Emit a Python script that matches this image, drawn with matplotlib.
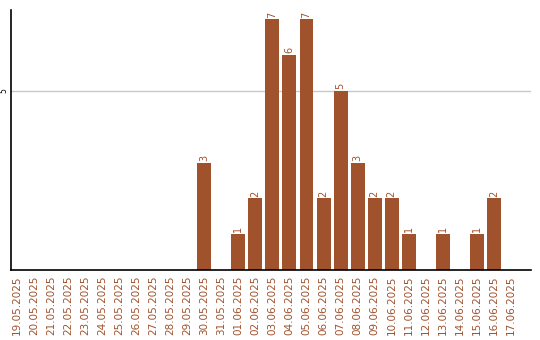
import matplotlib
matplotlib.use("Agg")
import matplotlib.pyplot as plt

dates = ["19.05.2025", "20.05.2025", "21.05.2025", "22.05.2025", "23.05.2025",
         "24.05.2025", "25.05.2025", "26.05.2025", "27.05.2025", "28.05.2025",
         "29.05.2025", "30.05.2025", "31.05.2025", "01.06.2025", "02.06.2025",
         "03.06.2025", "04.06.2025", "05.06.2025", "06.06.2025", "07.06.2025",
         "08.06.2025", "09.06.2025", "10.06.2025", "11.06.2025", "12.06.2025",
         "13.06.2025", "14.06.2025", "15.06.2025", "16.06.2025", "17.06.2025"]
counts = [0, 0, 0, 0, 0, 0, 0, 0, 0, 0, 0, 3, 0, 1, 2, 7, 6, 7, 2, 5,
          3, 2, 2, 1, 0, 1, 0, 1, 2, 0]

color = "#A0522D"

fig = plt.figure(figsize=(5.4, 3.4), dpi=100)
ax = fig.add_axes([11 / 540, 70 / 340, 520 / 540, 260 / 340])

x = list(range(len(dates)))
bars = ax.bar(x, counts, width=0.82, color=color, zorder=2)
for xi, v in zip(x, counts):
    if v > 0:
        ax.text(xi, v + 0.05, str(v), rotation=90, ha="center", va="bottom",
                color=color, fontsize=7)

ax.set_xlim(-0.35, 30.18)
ax.set_ylim(0, 7.26)
ax.set_yticks([5])
ax.set_yticklabels(["5"], rotation=90, va="center", ha="center", fontsize=5.5)
ax.tick_params(axis="y", length=0, pad=5)
ax.set_xticks(x)
ax.set_xticklabels(dates, rotation=90, fontsize=7.5, color=color)
ax.tick_params(axis="x", length=0, pad=4)
ax.grid(axis="y", color="#c8c8c8", linewidth=1, zorder=0)
for s in ["top", "right"]:
    ax.spines[s].set_visible(False)
ax.spines["left"].set_linewidth(1.2)
ax.spines["bottom"].set_linewidth(1.2)

fig.savefig("out.png", dpi=100)
